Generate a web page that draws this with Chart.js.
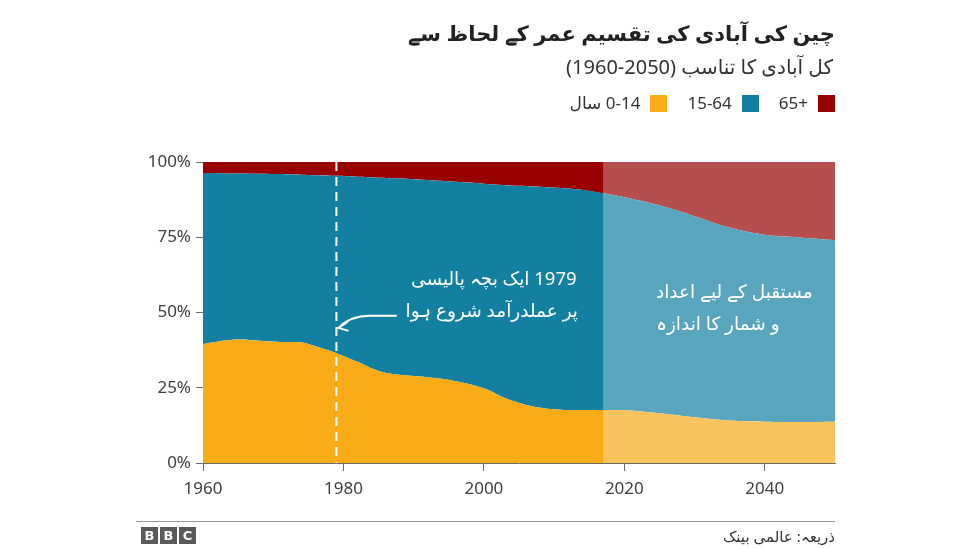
<!DOCTYPE html>
<html lang="ur">
<head>
  <meta charset="UTF-8">
  <title>چین کی آبادی کی تقسیم عمر کے لحاظ سے</title>
  <style>
    html, body { margin: 0; padding: 0; background: #fff; }
    body { width: 976px; height: 549px; position: relative; overflow: hidden;
           font-family: 'Noto Sans', 'DejaVu Sans', sans-serif; color: #222; }
    .abs { position: absolute; white-space: nowrap; }
    #title { right: 141px; top: 15px; font-size: 21px; font-weight: bold; line-height: 36px; }
    #subtitle { right: 143px; top: 53px; font-size: 20px; line-height: 28px; color: #333; }
    #legend { right: 141px; top: 92px; display: flex; align-items: center; font-size: 17px; color: #333; line-height: 22px; }
    #legend .sw { width: 17px; height: 17px; margin-left: 10px; }
    #legend .lbl { margin-left: 20px; }
    #legend .lbl:first-child { margin-left: 0; }
    #rule { left: 136px; top: 521px; width: 699px; height: 1px; background: #999; }
    #bbc { left: 141px; top: 527px; display: flex; }
    #bbc span { width: 17px; height: 17px; background: #5a5a5a; color: #fff; font: bold 13px 'DejaVu Sans', sans-serif;
                text-align: center; line-height: 17px; margin-right: 2px; }
    #source { right: 141px; top: 524px; font-size: 15px; line-height: 24px; color: #333; }
    canvas { position: absolute; left: 0; top: 0; }
  </style>
</head>
<body>
  <canvas id="chart" width="976" height="549"></canvas>

  <div id="title" class="abs" dir="rtl">چین کی آبادی کی تقسیم عمر کے لحاظ سے</div>
  <div id="subtitle" class="abs" dir="rtl">کل آبادی کا تناسب <span dir="ltr">(1960-2050)</span></div>
  <div id="legend" class="abs"></div>

  <div id="rule" class="abs"></div>
  <div id="bbc" class="abs"><span>B</span><span>B</span><span>C</span></div>
  <div id="source" class="abs" dir="rtl">ذریعہ: عالمی بینک</div>

  <script src="https://cdn.jsdelivr.net/npm/chart.js@4/dist/chart.umd.min.js"></script>
  <script>
    // age groups (share of total population, %)
    const groups = ['0-14 سال', '15-64', '65+'];

    // World Bank figures, 1960-2017
    const histYears = [1960, 1962, 1965, 1968, 1971, 1974, 1976, 1979, 1982, 1985, 1988, 1992, 1996, 2000, 2003, 2007, 2011, 2014, 2017];
    const hist0to14 = [39.5, 40.3, 41.0, 40.6, 40.2, 40.0, 38.8, 36.5, 33.6, 30.6, 29.3, 28.5, 27.2, 24.8, 21.6, 18.8, 17.7, 17.6, 17.6];
    const hist15to64 = [56.8, 56.0, 55.2, 55.5, 55.8, 55.8, 56.8, 58.9, 61.5, 64.2, 65.2, 65.5, 66.2, 68.0, 70.7, 73.1, 73.7, 73.2, 72.0];
    const hist65plus = [3.7, 3.7, 3.8, 3.9, 4.0, 4.2, 4.4, 4.6, 4.9, 5.2, 5.5, 6.0, 6.6, 7.2, 7.7, 8.1, 8.6, 9.2, 10.4];

    // projections (first point sits under the last historical one)
    const projYears = [2014, 2017, 2020, 2025, 2030, 2035, 2040, 2045, 2050];
    const proj0to14 = [17.6, 17.6, 17.5, 16.5, 15.2, 14.1, 13.7, 13.6, 13.7];
    const proj15to64 = [73.2, 72.0, 70.8, 69.1, 66.8, 64.1, 62.1, 61.3, 60.3];
    const proj65plus = [9.2, 10.4, 11.7, 14.4, 18.0, 21.8, 24.2, 25.1, 26.0];

    const xTicks = [1960, 1980, 2000, 2020, 2040];
    const yTicks = [0, 25, 50, 75, 100];

    const histColors = ['#faab18', '#1380a1', '#990000'];
    const projColors = ['#f9c45e', '#5aa5be', '#b74e4e'];

    // legend (right to left: 65+, 15-64, 0-14)
    const legend = document.getElementById('legend');
    groups.forEach((g, i) => {
      const lbl = document.createElement('span');
      lbl.className = 'lbl';
      lbl.textContent = g;
      lbl.dir = i === 0 ? 'rtl' : 'ltr';
      const sw = document.createElement('span');
      sw.className = 'sw';
      sw.style.background = histColors[i];
      legend.appendChild(lbl);
      legend.appendChild(sw);
    });

    const pts = (years, vals) => years.map((y, i) => ({ x: y, y: vals[i] }));

    function area(label, years, vals, color, stack, fill) {
      return {
        label: label,
        data: pts(years, vals),
        backgroundColor: color,
        borderWidth: 0,
        pointRadius: 0,
        fill: fill,
        stack: stack,
        tension: 0.4
      };
    }

    const datasets = [
      area(groups[0], histYears, hist0to14, histColors[0], 'hist', 'origin'),
      area(groups[1], histYears, hist15to64, histColors[1], 'hist', '-1'),
      area(groups[2], histYears, hist65plus, histColors[2], 'hist', '-1'),
      area(groups[0], projYears, proj0to14, projColors[0], 'proj', 'origin'),
      area(groups[1], projYears, proj15to64, projColors[1], 'proj', '-1'),
      area(groups[2], projYears, proj65plus, projColors[2], 'proj', '-1')
    ];

    // dashed 1979 line, notes and arrow
    const notes = {
      id: 'notes',
      afterDatasetsDraw(chart) {
        const { ctx, chartArea, scales: { x, y } } = chart;
        ctx.save();
        const px = x.getPixelForValue(1979);
        ctx.strokeStyle = '#fff';
        ctx.lineWidth = 2;
        ctx.setLineDash([9, 6]);
        ctx.beginPath();
        ctx.moveTo(px, chartArea.top);
        ctx.lineTo(px, chartArea.bottom);
        ctx.stroke();
        ctx.setLineDash([]);

        ctx.fillStyle = '#fff';
        ctx.font = "18.5px 'Noto Sans', 'DejaVu Sans', sans-serif";
        ctx.textBaseline = 'middle';
        ctx.direction = 'rtl';
        ctx.textAlign = 'right';
        ctx.fillText('1979 ایک بچہ پالیسی', x.getPixelForValue(2013.2), y.getPixelForValue(60.9));
        ctx.fillText('پر عملدرآمد شروع ہوا', x.getPixelForValue(2013.4), y.getPixelForValue(50.3));
        ctx.textAlign = 'left';
        ctx.fillText('مستقبل کے لیے اعداد', x.getPixelForValue(2024.5), y.getPixelForValue(56.6));
        ctx.fillText('و شمار کا اندازہ', x.getPixelForValue(2024.5), y.getPixelForValue(46.0));

        // arrow pointing at the 1979 line
        const ax0 = x.getPixelForValue(1987.6), ay0 = y.getPixelForValue(48.9);
        const ax1 = x.getPixelForValue(1983.8);
        const ax2 = x.getPixelForValue(1979.3), ay2 = y.getPixelForValue(44.9);
        ctx.lineWidth = 2;
        ctx.beginPath();
        ctx.moveTo(ax0, ay0);
        ctx.lineTo(ax1, ay0);
        ctx.quadraticCurveTo(ax2 + 12, ay0, ax2, ay2);
        ctx.stroke();
        ctx.beginPath();
        ctx.moveTo(ax2 + 9, ay2 - 6);
        ctx.lineTo(ax2, ay2);
        ctx.lineTo(ax2 + 10, ay2 + 3);
        ctx.stroke();
        ctx.restore();
      }
    };

    Chart.defaults.font.family = "'Noto Sans', 'DejaVu Sans', sans-serif";
    Chart.defaults.font.size = 17;
    Chart.defaults.color = '#404040';

    new Chart(document.getElementById('chart'), {
      type: 'line',
      data: { datasets: datasets },
      options: {
        responsive: false,
        animation: false,
        devicePixelRatio: 1,
        layout: { padding: { top: 162, right: 141, bottom: 39, left: 0 } },
        plugins: { legend: { display: false }, tooltip: { enabled: false } },
        scales: {
          x: {
            type: 'linear',
            min: 1960,
            max: 2050,
            afterFit: s => { s.height = 47; },
            afterBuildTicks: s => { s.ticks = xTicks.map(v => ({ value: v })); },
            ticks: { includeBounds: false, padding: 8, maxRotation: 0, callback: v => String(v) },
            grid: { drawOnChartArea: false, tickLength: 8, color: '#6b6b6b' },
            border: { color: '#6b6b6b' }
          },
          y: {
            stacked: true,
            min: 0,
            max: 100,
            afterFit: s => { s.width = 203; },
            afterBuildTicks: s => { s.ticks = yTicks.map(v => ({ value: v })); },
            ticks: { padding: 5, callback: v => v + '%' },
            grid: { drawOnChartArea: false, tickLength: 7, color: '#6b6b6b' },
            border: { color: '#6b6b6b' }
          }
        }
      },
      plugins: [notes]
    });
  </script>
</body>
</html>
